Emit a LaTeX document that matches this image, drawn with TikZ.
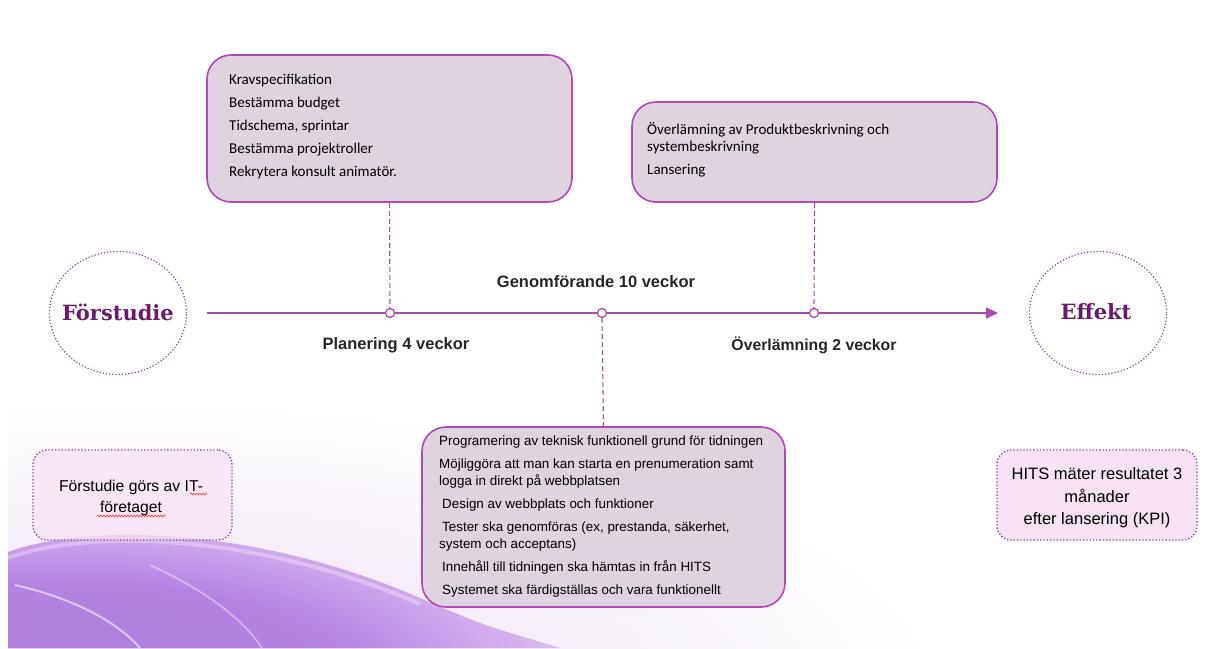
\documentclass[tikz,border=0pt]{standalone}
\usepackage{fontspec}
\setmainfont{Liberation Sans}
\newfontfamily\calfont{Carlito}
\newfontfamily\slabfont{DejaVu Serif}
\usetikzlibrary{arrows.meta,decorations.pathmorphing,shapes.geometric}
\definecolor{tline}{HTML}{A84CAA}
\definecolor{boxfill}{HTML}{DFD3DF}
\definecolor{boxedge}{HTML}{B04AB2}
\definecolor{titlecol}{HTML}{6A1A6C}
\definecolor{dotedge}{HTML}{7A4A9C}
\definecolor{notefill}{HTML}{F6E2F2}
\definecolor{lav1}{HTML}{F3E9F8}
\definecolor{lav2}{HTML}{CDA6EC}
\definecolor{lav3}{HTML}{B683E3}
\pgfdeclareradialshading{paleglow}{\pgfpoint{0bp}{0bp}}{color(0bp)=(lav2!60!white); color(9bp)=(lav1); color(24bp)=(white); color(50bp)=(white)}
\pgfdeclareradialshading{wavecore}{\pgfpoint{0bp}{0bp}}{color(0bp)=(lav3!95!black); color(13bp)=(lav3); color(19bp)=(lav2); color(25bp)=(lav1!50!lav2); color(50bp)=(lav1)}
\tikzset{
  phasebox/.style={draw=boxedge, line width=1.6pt, fill=boxfill, rounded corners=24pt, inner sep=0pt},
  notebox/.style={draw=dotedge, line width=1.3pt, dotted, fill=notefill, rounded corners=14pt, inner sep=0pt},
  endcircle/.style={ellipse, draw=dotedge, line width=1.2pt, dotted, inner sep=0pt},
  milestone/.style={circle, draw=tline, line width=1.3pt, fill=white, minimum size=9pt, inner sep=0pt},
  guide/.style={tline, line width=1.1pt, dash pattern=on 5pt off 3pt},
  phaselabel/.style={font=\bfseries\fontsize{16.5}{18}\selectfont, text=black!85},
  titletext/.style={font=\slabfont\bfseries\fontsize{21}{24}\selectfont, text=titlecol},
}
\begin{document}
\begin{tikzpicture}[x=1pt, y=-1pt]
\useasboundingbox (0,0) rectangle (1206,648);
\fill[white] (0,0) rectangle (1206,648);

% soft lavender wave in the lower left corner
\begin{scope}
  \clip (8,380) rectangle (1206,648);
  \shade[shading=paleglow] (120,700) ellipse (860 and 310);
\end{scope}
\begin{scope}
  \clip (8,552) .. controls (90,522) and (260,528) .. (420,598) .. controls (480,624) .. (560,648) -- (8,648) -- cycle;
  \shade[shading=wavecore] (60,680) ellipse (560 and 190);
\end{scope}
\draw[white, opacity=0.55, line width=2pt] (15,585) .. controls (80,600) and (120,625) .. (140,648);
\draw[white, opacity=0.45, line width=1.5pt] (150,565) .. controls (200,588) and (240,615) .. (262,648);
\draw[white, opacity=0.3, line width=4pt] (8,558) .. controls (90,528) and (260,534) .. (420,604);

% start and end of the timeline
\node[endcircle, minimum width=137pt, minimum height=123pt] (fs) at (118,313) {};
\node[titletext] (fst) at (118,312) {Förstudie};
\node[endcircle, minimum width=137pt, minimum height=123pt] (ef) at (1098,313) {};
\node[titletext] (eft) at (1096,312) {Effekt};

% timeline
\coordinate (tl0) at (207,313);
\coordinate (tl1) at (998,313);
\draw[tline, line width=1.6pt, -{Triangle[length=12pt, width=11pt]}] (tl0) -- (tl1);
\node[milestone] (m1) at (390,313) {};
\node[milestone] (m2) at (602,313) {};
\node[milestone] (m3) at (814,313) {};

% phase labels
\node[phaselabel] (l1) at (396,345) {Planering 4 veckor};
\node[phaselabel] (l2) at (596,282) {Genomförande 10 veckor};
\node[phaselabel, font=\bfseries\fontsize{15.8}{18}\selectfont] (l3) at (814,345) {Överlämning 2 veckor};

% planning box
\node[phasebox, minimum width=365pt, minimum height=147pt] (b1) at (389.5,128.5) {};
\node[anchor=north west, align=left, inner sep=0pt, font=\calfont\fontsize{15}{23}\selectfont] (t1) at (229,74)
 {Kravspecifikation\\Bestämma budget\\Tidschema, sprintar\\Bestämma projektroller\\Rekrytera konsult animatör.};

% hand-over box
\node[phasebox, minimum width=365pt, minimum height=100pt] (b2) at (814.5,152) {};
\node[anchor=north west, align=left, inner sep=0pt, font=\calfont\fontsize{15}{17}\selectfont] (t2) at (647,122)
 {Överlämning av Produktbeskrivning och\\systembeskrivning\\[6pt]Lansering};

% execution box
\node[phasebox, minimum width=363pt, minimum height=180pt] (b3) at (603.5,517) {};
\node[anchor=north west, align=left, inner sep=0pt, font=\fontsize{13.4}{17}\selectfont] (t3) at (439,436)
 {Programering av teknisk funktionell grund för tidningen\\[6pt]
  Möjliggöra att man kan starta en prenumeration samt\\logga in direkt på webbplatsen\\[6pt]
  \hspace{3pt}Design av webbplats och funktioner\\[6pt]
  \hspace{3pt}Tester ska genomföras (ex, prestanda, säkerhet,\\system och acceptans)\\[6pt]
  \hspace{3pt}Innehåll till tidningen ska hämtas in från HITS\\[6pt]
  \hspace{3pt}Systemet ska färdigställas och vara funktionellt};

% guides from boxes to milestones
\draw[guide] (b1.south) -- (m1.north);
\draw[guide] (b2.south) -- (m3.north);
\draw[guide] (m2.south) -- (b3.north);

% side notes
\node[notebox, minimum width=199pt, minimum height=90pt, fill opacity=0.75] (n1) at (132.5,495) {};
\node[align=center, inner sep=0pt, font=\fontsize{15.7}{21}\selectfont] (n1t) at (131,498) {Förstudie görs av IT-\\företaget};
\draw[red!80, line width=0.6pt, decorate, decoration={snake, amplitude=0.9pt, segment length=3pt}] (190,494) -- (207,494);
\draw[red!80, line width=0.6pt, decorate, decoration={snake, amplitude=0.9pt, segment length=3pt}] (97,516) -- (166,516);

\node[notebox, minimum width=200pt, minimum height=90pt] (n2) at (1097,495) {};
\node[align=center, inner sep=0pt, font=\fontsize{16.5}{22.5}\selectfont] (n2t) at (1097,498) {HITS mäter resultatet 3\\månader\\efter lansering (KPI)};
\end{tikzpicture}
\end{document}
